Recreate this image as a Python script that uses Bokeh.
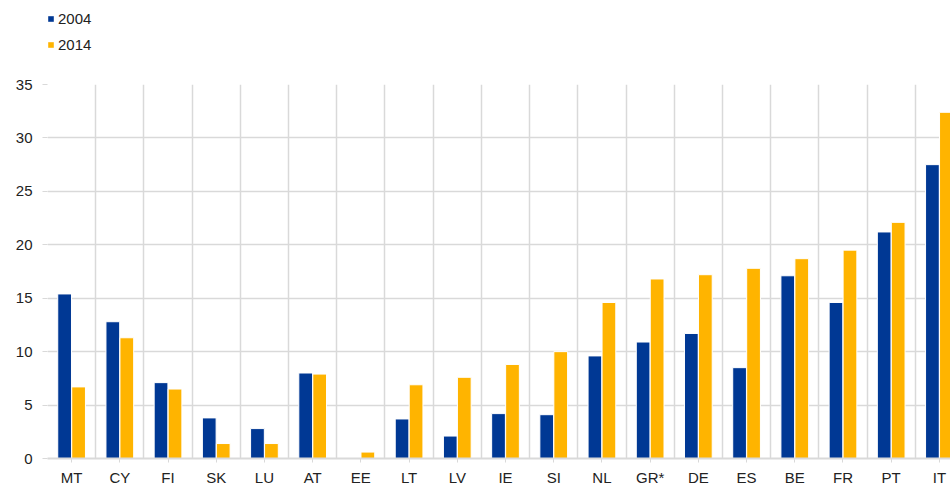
from bokeh.plotting import figure
from bokeh.layouts import column
from bokeh.models import FixedTicker, Range1d, Legend, LegendItem, ColumnDataSource
from bokeh.transform import dodge
from bokeh.embed import file_html
from bokeh.resources import INLINE
import numpy as np

countries = ["MT", "CY", "FI", "SK", "LU", "AT", "EE", "LT", "LV", "IE", "SI", "NL",
             "GR*", "DE", "ES", "BE", "FR", "PT", "IT"]
v2004 = [15.4, 12.8, 7.1, 3.8, 2.8, 8.0, 0.0, 3.7, 2.1, 4.2, 4.1, 9.6,
         10.9, 11.7, 8.5, 17.1, 14.6, 21.2, 27.5]
v2014 = [6.7, 11.3, 6.5, 1.4, 1.4, 7.9, 0.6, 6.9, 7.6, 8.8, 10.0, 14.6,
         16.8, 17.2, 17.8, 18.7, 19.5, 22.1, 32.4]
series_names = ["2004", "2014"]
y_ticks = [0, 5, 10, 15, 20, 25, 30, 35]

BLUE = "#003894"
YELLOW = "#FFB400"
GRID = "#d9d9d9"
FONT = "Liberation Sans"

idx = np.arange(len(countries))
src = ColumnDataSource(dict(x=idx, a=v2004, b=v2014))

# ---- legend strip (above the chart); its renderers are hidden, only the legend shows ----
lg = figure(width=950, height=76, output_backend="svg", toolbar_location=None,
            x_axis_type=None, y_axis_type=None,
            x_range=Range1d(-0.5, 18.23), y_range=Range1d(-200, -100),
            min_border_left=0, min_border_right=0, min_border_top=0, min_border_bottom=0)
lg.outline_line_color = None
lg.grid.visible = False
l1 = lg.vbar(x=dodge("x", -0.145), top="a", width=0.285, source=src,
             fill_color=BLUE, line_color=None, visible=False)
l2 = lg.vbar(x=dodge("x", 0.145), top="b", width=0.285, source=src,
             fill_color=YELLOW, line_color=None, visible=False)
legend = Legend(items=[LegendItem(label=series_names[0], renderers=[l1]),
                       LegendItem(label=series_names[1], renderers=[l2])],
                orientation="vertical", location=(0, 22), click_policy="none",
                glyph_width=7, glyph_height=7, label_height=20, spacing=6,
                padding=0, margin=0, label_standoff=4,
                label_text_font=FONT, label_text_font_size="15px",
                label_text_color="#222222", border_line_color=None,
                background_fill_alpha=0)
lg.add_layout(legend, "center")

# ---- main chart ----
p = figure(width=950, height=412, output_backend="svg", toolbar_location=None,
           x_range=Range1d(-0.5, 18.23), y_range=Range1d(0, 35),
           min_border_left=47, min_border_right=0, min_border_top=8, min_border_bottom=29)
p.outline_line_color = None

p.vbar(x=dodge("x", -0.145), top="a", width=0.285, source=src,
       fill_color=BLUE, line_color="white", line_width=1)
p.vbar(x=dodge("x", 0.145), top="b", width=0.285, source=src,
       fill_color=YELLOW, line_color="white", line_width=1)

p.xaxis.ticker = FixedTicker(ticks=list(idx))
p.xaxis.major_label_overrides = {int(i): c for i, c in zip(idx, countries)}
p.xaxis.minor_tick_line_color = None
p.xaxis.major_tick_in = 0
p.xaxis.major_tick_out = 4
p.xaxis.major_tick_line_color = GRID
p.xaxis.axis_line_color = GRID
p.xaxis.axis_line_width = 2
p.xaxis.major_label_text_font = FONT
p.xaxis.major_label_text_font_size = "15px"
p.xaxis.major_label_text_color = "#222222"
p.xaxis.major_label_standoff = 6

p.yaxis.ticker = FixedTicker(ticks=y_ticks)
p.yaxis.minor_tick_line_color = None
p.yaxis.major_tick_in = 0
p.yaxis.major_tick_out = 5
p.yaxis.major_tick_line_color = GRID
p.yaxis.axis_line_color = None
p.yaxis.major_label_text_font = FONT
p.yaxis.major_label_text_font_size = "15px"
p.yaxis.major_label_text_color = "#222222"
p.yaxis.major_label_standoff = 10

p.ygrid.grid_line_color = GRID
p.ygrid.grid_line_width = 1.5
p.xgrid.ticker = FixedTicker(ticks=[i - 0.5 for i in range(len(countries) + 1)])
p.xgrid.grid_line_color = GRID
p.xgrid.grid_line_width = 1.5

layout = column(lg, p, spacing=0)
open("out.html", "w").write(file_html(layout, INLINE))
